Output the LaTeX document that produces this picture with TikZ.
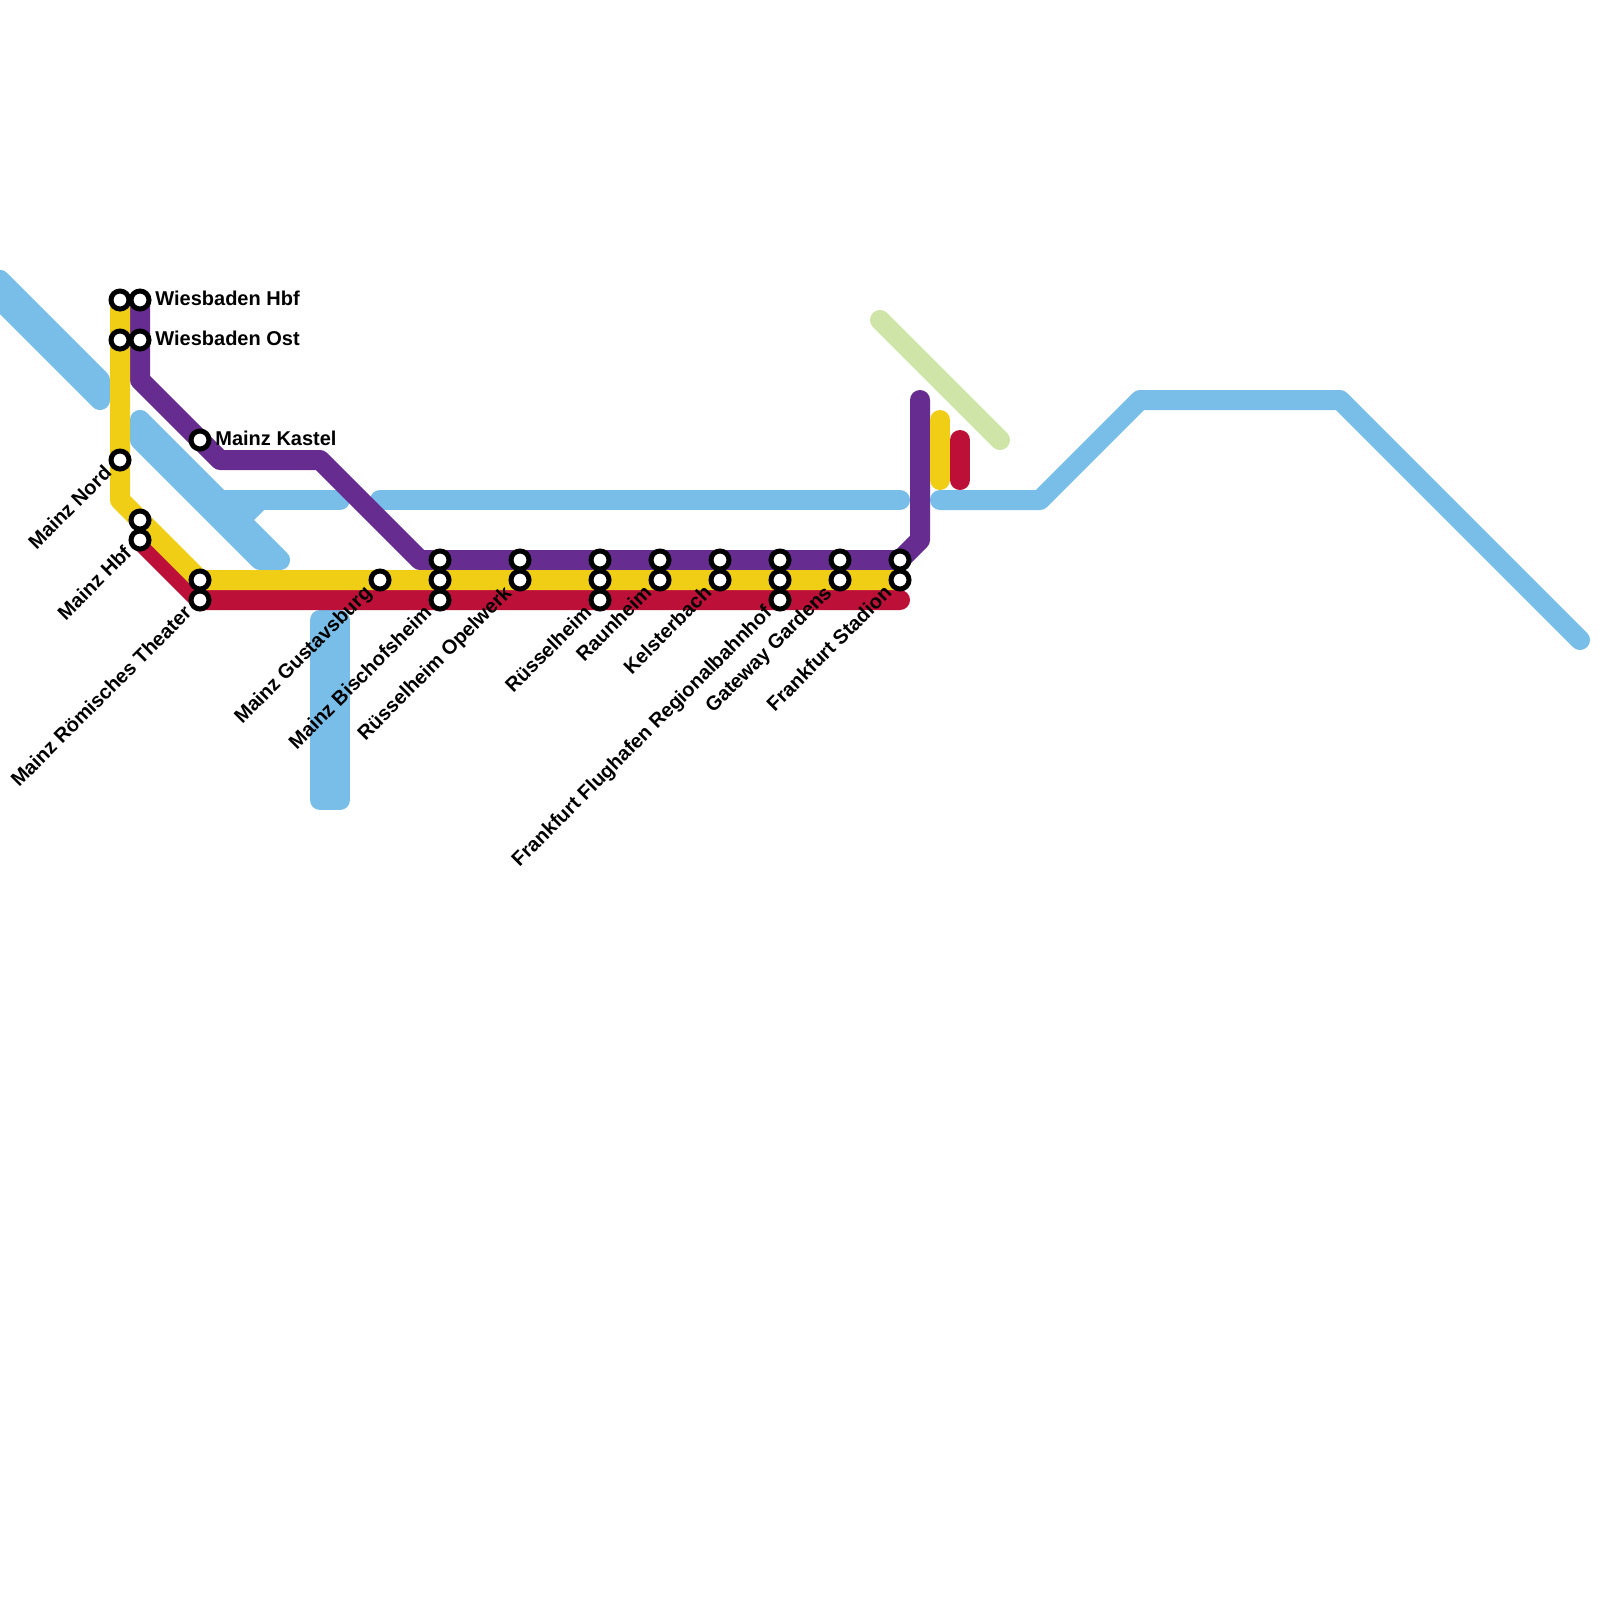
\documentclass[tikz,border=0pt]{standalone}
\usepackage{fontspec}
\setmainfont{Liberation Sans}
\usetikzlibrary{backgrounds}
\definecolor{lblue}{HTML}{79BDE9}
\definecolor{lgreen}{HTML}{CFE4A7}
\definecolor{lpurple}{HTML}{662C90}
\definecolor{lyellow}{HTML}{F0CE15}
\definecolor{lred}{HTML}{BD1038}
\tikzset{
  metro/.style={line width=10pt,line cap=round,line join=round},
  stn/.style={circle,draw=black,fill=white,line width=2.5pt,minimum size=9pt,inner sep=0pt},
  lab/.style={font=\bfseries\fontsize{10pt}{12pt}\selectfont,inner sep=0pt,text=black},
  lr/.style={lab,anchor=base west},
  ld/.style={lab,anchor=base east,rotate=45},
  pt/.style={coordinate}
}
\begin{document}
\begin{tikzpicture}[x=0.5pt,y=-0.5pt]
\useasboundingbox (0,0) rectangle (1600,1600);
% stations
\node[stn] (wy) at (120,300) {};
\node[stn] (wp) at (140,300) {};
\node[stn] (oy) at (120,340) {};
\node[stn] (op) at (140,340) {};
\node[stn] (nord) at (120,460) {};
\node[stn] (hy) at (140,520) {};
\node[stn] (hr) at (140,540) {};
\node[stn] (kastel) at (200,440) {};
\node[stn] (ty) at (200,580) {};
\node[stn] (tr) at (200,600) {};
\node[stn] (gust) at (380,580) {};
\node[stn] (bp) at (440,560) {};
\node[stn] (by) at (440,580) {};
\node[stn] (br) at (440,600) {};
\node[stn] (rop) at (520,560) {};
\node[stn] (roy) at (520,580) {};
\node[stn] (rp) at (600,560) {};
\node[stn] (ry) at (600,580) {};
\node[stn] (rr) at (600,600) {};
\node[stn] (rap) at (660,560) {};
\node[stn] (ray) at (660,580) {};
\node[stn] (kp) at (720,560) {};
\node[stn] (ky) at (720,580) {};
\node[stn] (fp) at (780,560) {};
\node[stn] (fy) at (780,580) {};
\node[stn] (fr) at (780,600) {};
\node[stn] (gp) at (840,560) {};
\node[stn] (gy) at (840,580) {};
\node[stn] (sp) at (900,560) {};
\node[stn] (sy) at (900,580) {};
% labels
\node[lr] (l1) at (155,305) {Wiesbaden Hbf};
\node[lr] (l2) at (155,345) {Wiesbaden Ost};
\node[lr] (l3) at (215,445) {Mainz Kastel};
\node[ld] (l4) at (113,474) {Mainz Nord};
\node[ld] (l5) at (133,554) {Mainz Hbf};
\node[ld] (l6) at (193,614) {Mainz Römisches Theater};
\node[ld] (l7) at (373,594) {Mainz Gustavsburg};
\node[ld] (l8) at (433,614) {Mainz Bischofsheim};
\node[ld] (l9) at (513,594) {Rüsselheim Opelwerk};
\node[ld] (l10) at (593,614) {Rüsselheim};
\node[ld] (l11) at (653,594) {Raunheim};
\node[ld] (l12) at (713,594) {Kelsterbach};
\node[ld] (l13) at (773,614) {Frankfurt Flughafen Regionalbahnhof};
\node[ld] (l14) at (833,594) {Gateway Gardens};
\node[ld] (l15) at (893,594) {Frankfurt Stadion};
% bends and free ends
\coordinate (a1) at (0,280); \coordinate (a2) at (100,380);
\coordinate (a3) at (0,300); \coordinate (a4) at (100,400);
\coordinate (c1) at (140,420); \coordinate (c2) at (280,560);
\coordinate (c3) at (140,440); \coordinate (c4) at (260,560);
\coordinate (c5) at (220,500); \coordinate (c6) at (340,500);
\coordinate (c7) at (240,520); \coordinate (c8) at (260,500);
\coordinate (d1) at (320,620); \coordinate (d2) at (320,800);
\coordinate (d3) at (340,620); \coordinate (d4) at (340,800);
\coordinate (e1) at (380,500); \coordinate (e2) at (900,500);
\coordinate (f1) at (940,500); \coordinate (f2) at (1040,500);
\coordinate (f3) at (1140,400); \coordinate (f4) at (1340,400); \coordinate (f5) at (1580,640);
\coordinate (g1) at (880,320); \coordinate (g2) at (1000,440);
\coordinate (p1) at (140,380); \coordinate (p2) at (220,460); \coordinate (p3) at (320,460);
\coordinate (p4) at (420,560); \coordinate (p5) at (920,540); \coordinate (p6) at (920,400);
\coordinate (y1) at (120,500); \coordinate (y2) at (940,420); \coordinate (y3) at (940,480);
\coordinate (r1) at (960,440); \coordinate (r2) at (960,480);
\begin{pgfonlayer}{background}
\draw[metro,lblue] (a1) -- (a2) -- (a4) -- (a3) -- cycle;
\fill[lblue] (a1) -- (a2) -- (a4) -- (a3) -- cycle;
\draw[metro,lblue] (c1) -- (c2) -- (c4) -- (c3) -- cycle;
\fill[lblue] (c1) -- (c2) -- (c4) -- (c3) -- cycle;
\draw[metro,lblue] (c5) -- (c6);
\draw[metro,lblue] (c7) -- (c8);
\draw[metro,lblue,fill=lblue] (d1) -- (d2) -- (d4) -- (d3) -- cycle;
\draw[metro,lblue] (e1) -- (e2);
\draw[metro,lblue] (f1) -- (f2) -- (f3) -- (f4) -- (f5);
\draw[metro,lgreen] (g1) -- (g2);
\draw[metro,lred] (hr.center) -- (tr.center) -- (sy.center |- tr.center);
\draw[metro,lpurple] (wp.center) -- (op.center) -- (p1) -- (p2) -- (p3) -- (p4) -- (sp.center) -- (p5) -- (p6);
\draw[metro,lyellow] (wy.center) -- (oy.center) -- (nord.center) -- (y1) -- (ty.center) -- (sy.center);
\draw[metro,lyellow] (y2) -- (y3);
\draw[metro,lred] (r1) -- (r2);
\end{pgfonlayer}
\end{tikzpicture}
\end{document}
